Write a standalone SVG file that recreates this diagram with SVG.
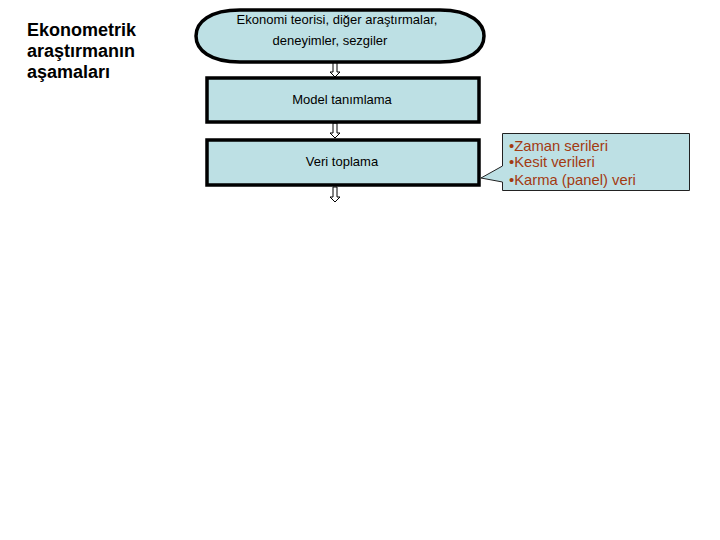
<svg xmlns="http://www.w3.org/2000/svg" width="720" height="540" viewBox="0 0 720 540">
<style>
.box{fill:#bde0e4;stroke:#000;stroke-width:3.5}
.t{font-family:"Liberation Sans",Arial,sans-serif;font-size:13px;fill:#000;text-anchor:middle}
.title{font-family:"Liberation Sans",Arial,sans-serif;font-size:18px;font-weight:bold;fill:#000}
.c{font-family:"Liberation Sans",Arial,sans-serif;font-size:14.8px;fill:#a33a12}
.arr{fill:#fff;stroke:#000;stroke-width:1}
</style>
<defs>
<path id="a" d="M-2,0 L2,0 L2,10 L5,10 L0,15 L-5,10 L-2,10 Z"/>
</defs>
<rect width="720" height="540" fill="#fff"/>
<g id="title">
<text class="title" x="27" y="36">Ekonometrik</text>
<text class="title" x="27" y="57">araştırmanın</text>
<text class="title" x="27" y="78">aşamaları</text>
</g>
<g id="connectors">
<use href="#a" class="arr" transform="translate(335,62)"/>
<use href="#a" class="arr" transform="translate(335,123)"/>
<use href="#a" class="arr" transform="translate(335,187)"/>
</g>
<g id="n1">
<path class="box" d="M240,10 H440 C472,10 484,24 484,36 C484,50 470,62 440,62 H240 C210,62 196,50 196,36 C196,22 210,10 240,10 Z"/>
<text class="t" x="337" y="24">Ekonomi teorisi, diğer araştırmalar,</text>
<text class="t" x="330" y="45">deneyimler, sezgiler</text>
</g>
<g id="n2">
<rect class="box" x="207" y="78" width="272" height="44"/>
<text class="t" x="342" y="104">Model tanımlama</text>
</g>
<g id="n3">
<rect class="box" x="207" y="140" width="272" height="45"/>
<text class="t" x="342" y="166">Veri toplama</text>
</g>
<g id="callout">
<path d="M502.5,133.5 H689.5 V190.5 H502.5 V182 L481,178 L502.5,166 Z" fill="#bde0e4" stroke="#222" stroke-width="1"/>
<text class="c" x="509" y="151">•Zaman serileri</text>
<text class="c" x="509" y="167">•Kesit verileri</text>
<text class="c" x="509" y="185">•Karma (panel) veri</text>
</g>
</svg>
